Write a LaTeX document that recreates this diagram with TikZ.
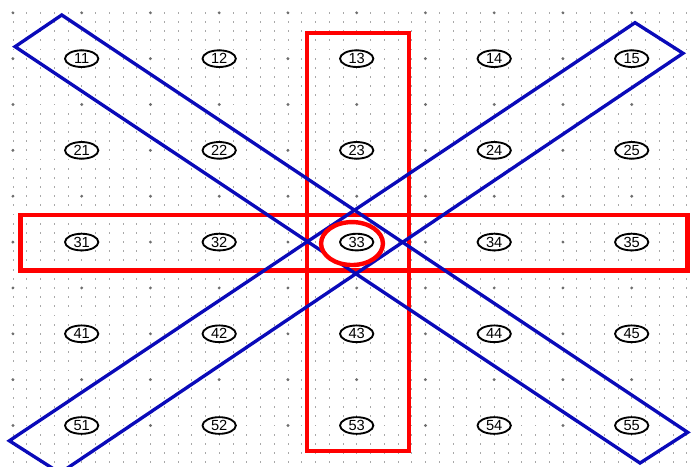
\documentclass[tikz,border=0pt]{standalone}
\usepackage{fontspec}
\setmainfont{Liberation Sans}
\usepackage{tikz}
\usetikzlibrary{shapes.geometric}
\definecolor{boxred}{RGB}{255, 0, 0}
\definecolor{bandblue}{RGB}{10, 10, 185}
\definecolor{dotgray}{RGB}{110, 110, 110}

\begin{document}
\begin{tikzpicture}[x=51.56pt, y=-34.39pt,
    cell/.style={ellipse, draw, line width=1.4pt, fill=white, minimum width=25pt, minimum height=12.5pt, inner sep=0pt, font=\fontsize{11}{12}\selectfont},
    redbox/.style={draw=boxred, line width=3.3pt, line join=miter},
    band/.style={draw=bandblue, line width=2.5pt, line join=miter}]
    \useasboundingbox (-0.188,-0.279) rectangle (9.921,9.884);
    \clip (-0.188,-0.279) rectangle (9.921,9.884);
    \fill[white] (-0.188,-0.279) rectangle (9.921,9.884);
    % dot grid
    \foreach \i in {0,...,49}
      \foreach \j in {0,...,49}
        \fill[dotgray!60] (0.2*\i,0.2*\j) +(-0.3pt,-0.7pt) rectangle +(0.3pt,0.7pt);
    \foreach \i in {0,...,9}
      \foreach \j in {0,...,9}
        \fill[dotgray] (\i,\j) circle (1.2pt);
    % red boxes
    \draw[redbox] (4.278,0.440) rectangle (5.762,9.557);
    \draw[redbox] (0.113,4.410) rectangle (9.810,5.621);
    % blue bands
    \draw[band] (0.710,0.048) -- (9.815,9.149) -- (9.121,9.819) -- (0.031,0.739) -- cycle;
    \draw[band] (9.049,0.216) -- (9.747,0.883) -- (0.685,10.037) -- (-0.052,9.333) -- cycle;
    \draw[redbox, fill=white] (4.932,5.032) ellipse [x radius=23.2pt, y radius=16.1pt];
    % cells
    \foreach \r in {1,...,5}
      \foreach \c in {1,...,5}
        \node[cell] (n\r\c) at (2*\c-1, 2*\r-1) {\r\c};
\end{tikzpicture}
\end{document}
